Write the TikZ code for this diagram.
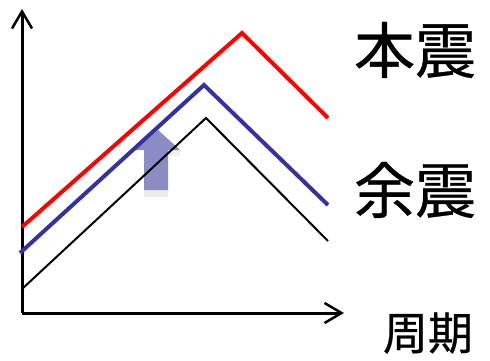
\documentclass[tikz,border=0pt]{standalone}
\usepackage{fontspec}
\newfontfamily\cjk[FakeBold=0.6]{Noto Sans CJK JP}
\usetikzlibrary{arrows.meta}
\definecolor{upblue}{RGB}{140,140,196}
\definecolor{midblue}{RGB}{51,51,160}
\begin{document}
\begin{tikzpicture}[x=1pt,y=-1pt,
  axis/.style={line width=3pt,-{Straight Barb[length=17pt,width=20pt,line width=2.5pt]}},
  lbl/.style={inner sep=0pt}]
\useasboundingbox (0,0) rectangle (490,361);
% axes
\coordinate (o) at (22,313);
\coordinate (ytop) at (22,9);
\coordinate (xend) at (344,313);
\draw[axis] (o) -- (ytop);
\draw[axis] (o) -- (xend);
% arrow (shift up)
\fill[gray!15] (144,190) rectangle (168,197);
\fill[gray!12] (168,150) -- (180,150) -- (180,156) -- (168,156) -- cycle;
\fill[upblue] (144,190) -- (144,150) -- (135,150) -- (158,130) -- (180,150) -- (168,150) -- (168,190) -- cycle;
% spectra
\coordinate (r1) at (22,227); \coordinate (r2) at (242,33); \coordinate (r3) at (328,118);
\coordinate (b1) at (20,253); \coordinate (b2) at (204,85); \coordinate (b3) at (328,205);
\coordinate (k1) at (22,289); \coordinate (k2) at (206,118); \coordinate (k3) at (328,241);
\draw[red, line width=4pt] (r1) -- (r2) -- (r3);
\draw[midblue, line width=4pt] (b1) -- (b2) -- (b3);
\draw[black, line width=2pt] (k1) -- (k2) -- (k3);
% labels
\node[lbl, font=\cjk\fontsize{61}{61}\selectfont] (main) at (415,50) {本震};
\node[lbl, font=\cjk\fontsize{61}{61}\selectfont] (after) at (415,190) {余震};
\node[lbl, font=\cjk\fontsize{45}{45}\selectfont] (period) at (428,333) {周期};
\end{tikzpicture}
\end{document}
